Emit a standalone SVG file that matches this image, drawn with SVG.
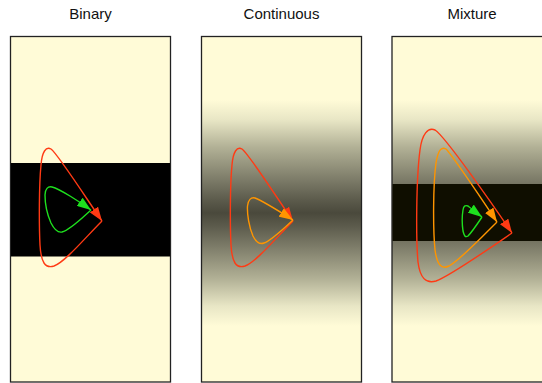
<svg xmlns="http://www.w3.org/2000/svg" width="542" height="383" viewBox="0 0 542 383">
  <style>
    .title { font-family: "Liberation Sans", Arial, Helvetica, sans-serif; font-size: 15px; fill: #111; text-anchor: middle; }
    .panel { stroke: #222; stroke-width: 1.3; }
    .loop { fill: none; stroke-width: 1.4; stroke-linejoin: round; }
    .red { stroke: #ff3a14; }
    .orange { stroke: #ff9500; }
    .green { stroke: #1ee01e; }
  </style>
  <defs>
    <!-- soft dark band: fades from cream to dark olive and back -->
    <linearGradient id="band" gradientUnits="userSpaceOnUse" x1="0" y1="100" x2="0" y2="326">
      <stop offset="0" stop-color="#fffbd7"/>
      <stop offset="0.088" stop-color="#e8e6c5"/>
      <stop offset="0.208" stop-color="#b2b196"/>
      <stop offset="0.354" stop-color="#7c7b68"/>
      <stop offset="0.442" stop-color="#5c5b4c"/>
      <stop offset="0.5" stop-color="#4a493c"/>
      <stop offset="0.558" stop-color="#5c5b4c"/>
      <stop offset="0.646" stop-color="#7c7b68"/>
      <stop offset="0.792" stop-color="#b2b196"/>
      <stop offset="0.912" stop-color="#e8e6c5"/>
      <stop offset="1" stop-color="#fffbd7"/>
    </linearGradient>
    <marker id="head-red" markerUnits="userSpaceOnUse" markerWidth="14" markerHeight="10" refX="14" refY="5" orient="auto">
      <path d="M0,0 L14,5 L0,10 z" fill="#ff3a14"/>
    </marker>
    <marker id="head-orange" markerUnits="userSpaceOnUse" markerWidth="14" markerHeight="10" refX="14" refY="5" orient="auto">
      <path d="M0,0 L14,5 L0,10 z" fill="#ff9500"/>
    </marker>
    <marker id="head-green" markerUnits="userSpaceOnUse" markerWidth="14" markerHeight="10" refX="14" refY="5" orient="auto">
      <path d="M0,0 L14,5 L0,10 z" fill="#1ee01e"/>
    </marker>
  </defs>

  <rect width="542" height="383" fill="#ffffff"/>

  <!-- Binary: hard black band -->
  <g id="binary">
    <text class="title" x="90.5" y="18.5">Binary</text>
    <rect class="panel" x="10.5" y="36.5" width="160" height="345.5" fill="#fffbd7"/>
    <rect x="11" y="163" width="159" height="93.5" fill="#000000"/>
  </g>

  <!-- Continuous: graded band -->
  <g id="continuous">
    <text class="title" x="281.5" y="18.5">Continuous</text>
    <rect class="panel" x="201.5" y="36.5" width="160" height="345.5" fill="url(#band)"/>
  </g>

  <!-- Mixture: graded band with a dark core -->
  <g id="mixture">
    <text class="title" x="472" y="18.5">Mixture</text>
    <rect class="panel" x="392" y="36.5" width="160" height="345.5" fill="url(#band)"/>
    <rect x="392.6" y="184" width="150" height="57" fill="#0f0e00"/>
  </g>

  <!-- trajectory loops, each ending in an arrowhead at its start point -->
  <g id="connectors">
    <path class="loop red" marker-end="url(#head-red)" d="M102,221 C85,238 65,262 54,266 C45,269 41,262 40,245 C39,225 39,185 41,165 C42,152 46,146 51,149 C58,154 90,204 102,221"/>
    <path class="loop green" marker-end="url(#head-green)" d="M91,210 C82,218 70,230 62,232 C57,233 54,229 51,223 C47,214 45,203 45,195 C45,189 48,186 52,187 C60,189 80,202 91,210"/>

    <path class="loop red" marker-end="url(#head-red)" d="M293,221 C276,238 256,262 245,266 C236,269 232,262 231,245 C230,225 230,185 232,165 C233,152 237,146 242,149 C249,154 281,204 293,221"/>
    <path class="loop orange" marker-end="url(#head-orange)" d="M293,220 C284,228 272,240 264,243 C259,245 256,242 253,236 C249,227 247,214 247.5,206 C248,200 251,197 255,198 C263,201 282,213 293,220"/>

    <path class="loop red" marker-end="url(#head-red)" d="M512,233 C490,248 450,276 436,281 C426,284 420,278 418,262 C416,240 416,180 420,150 C422,134 428,127 435,130 C445,136 495,208 512,233"/>
    <path class="loop orange" marker-end="url(#head-orange)" d="M497,222 C482,237 460,260 449,266 C441,270 437,264 435,250 C433,230 433,185 436,163 C438,151 441,146 446,149 C453,156 485,204 497,222"/>
    <path class="loop green" marker-end="url(#head-green)" d="M482,217 C478,223 472,232 468,236 C465,238 464,235 463,231 C462,224 462,216 463,210 C463.5,206 465,205 468,206 C472,209 478,214 482,217"/>
  </g>
</svg>
